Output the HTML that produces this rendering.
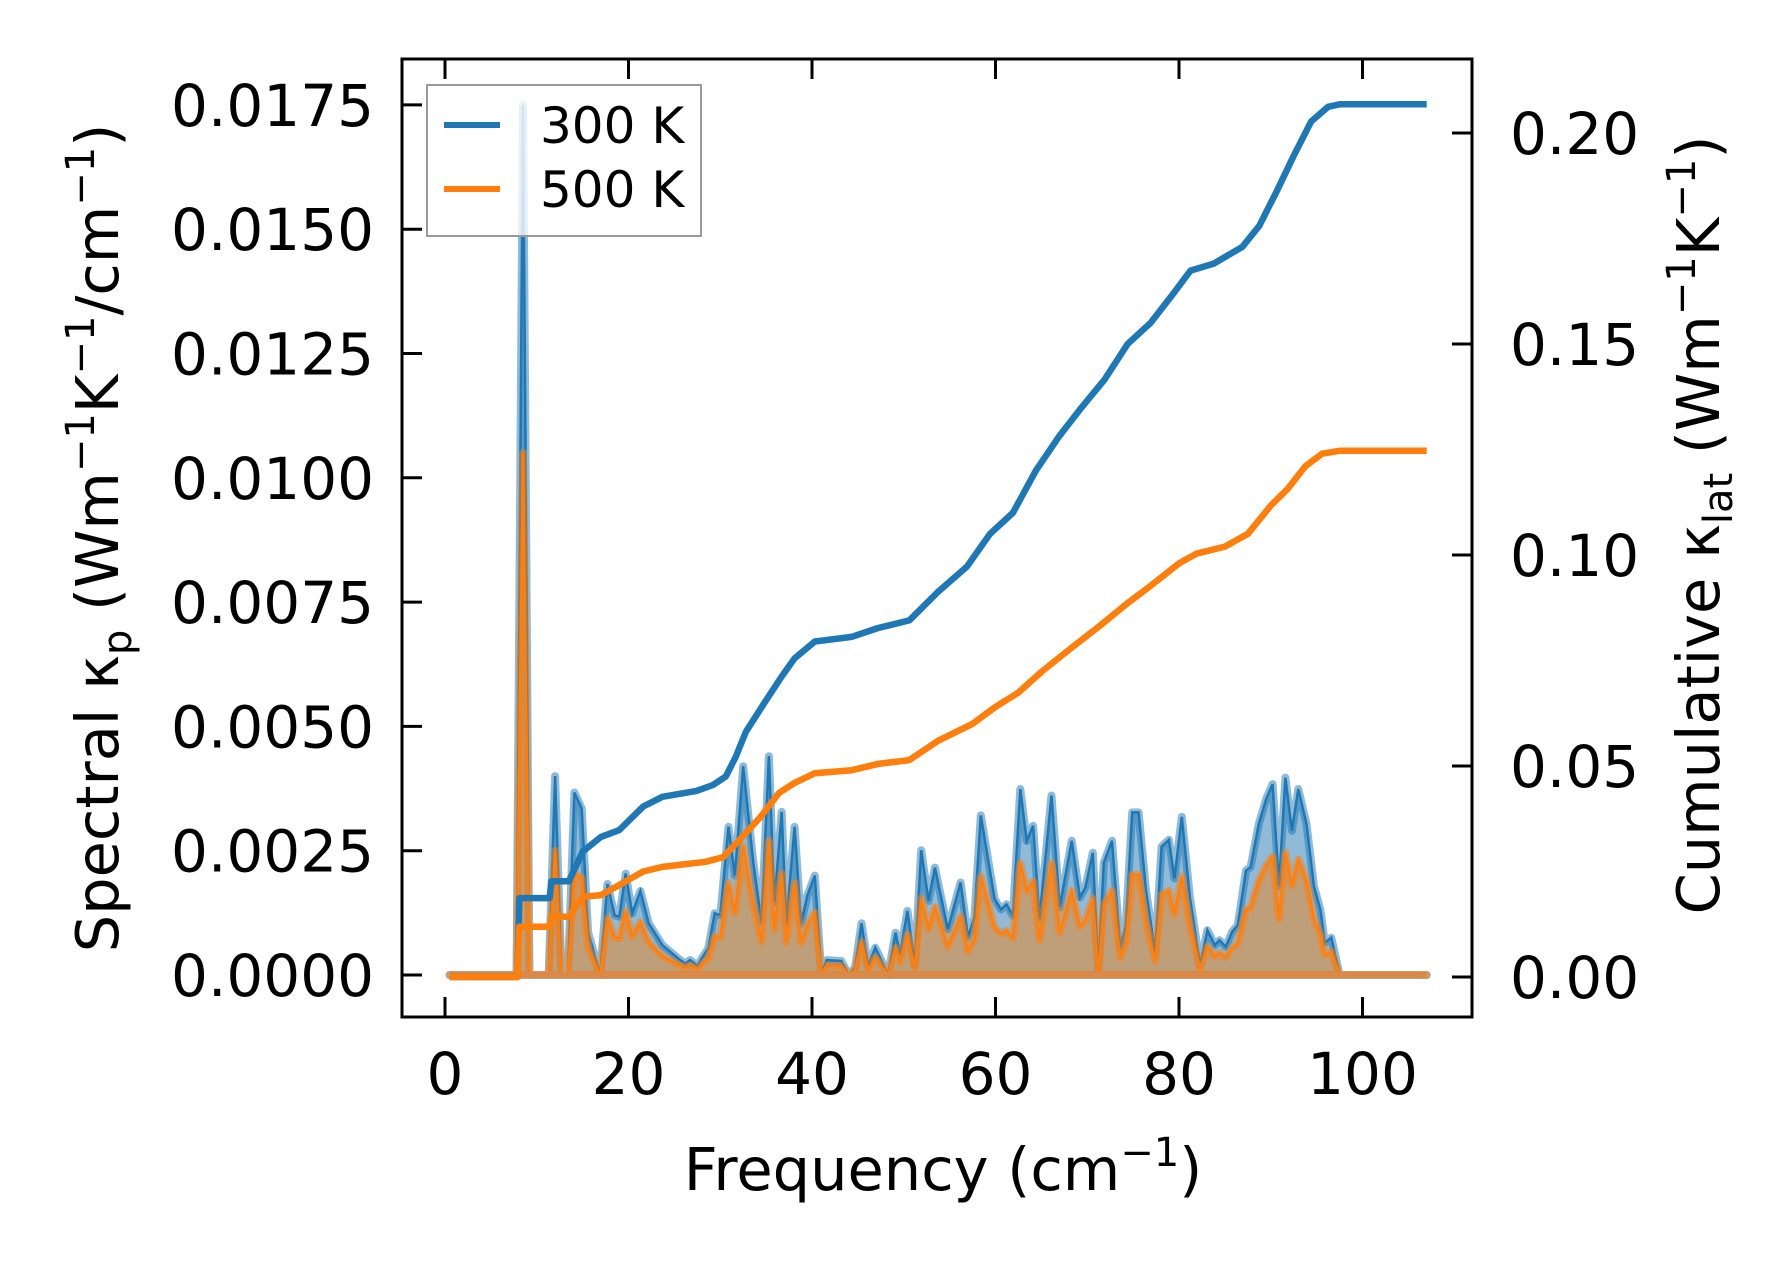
<!DOCTYPE html>
<html><head><meta charset="utf-8"><style>
html,body{margin:0;padding:0;background:#fff;}
svg{display:block;font-family:"DejaVu Sans","Liberation Sans",sans-serif;}
</style></head><body>
<svg id="chart" width="1790" height="1264" viewBox="0 0 1790 1264" xmlns="http://www.w3.org/2000/svg"></svg>
<script>
const specFreq=[0.5,7.8,8.5,9.2,11.3,12.0,12.7,13.4,14.1,14.9,15.6,16.9,17.7,18.5,19.0,19.7,20.4,21.3,22.2,23.7,25.5,26.2,26.7,27.5,28.7,29.4,30.0,30.9,31.6,32.5,33.6,34.5,35.3,35.9,36.7,37.2,38.1,38.8,39.5,40.3,41.0,41.6,43.2,44.0,44.7,45.4,46.1,46.9,47.6,48.3,49.1,49.6,50.4,51.2,51.9,52.7,53.4,54.8,56.2,57.0,57.7,58.4,59.9,60.6,61.2,61.9,62.7,63.4,64.1,64.8,66.1,67.0,68.3,69.2,69.8,70.6,71.2,71.8,72.7,73.6,74.2,74.9,75.6,76.4,77.4,78.1,78.9,79.5,80.3,81.2,82.3,83.1,83.9,84.4,85.1,85.8,86.4,87.3,87.8,88.7,89.5,90.2,90.9,91.6,92.3,93.0,93.9,94.7,95.4,95.9,96.6,97.5,107];
const spec300=[0,0,17.5,0,0,4.0,0,0,3.67,3.35,0.86,0,1.83,1.2,1.17,2.04,1.24,1.69,1.04,0.6,0.32,0.23,0.3,0.19,0.54,1.24,1.2,2.98,2.0,4.2,2.26,1.06,4.4,1.46,3.28,1.03,2.98,1.03,1.6,2.0,0.05,0.3,0.28,0,0.15,1.04,0.18,0.55,0.28,0,0.85,0.42,1.29,0.2,2.51,1.49,2.16,0.92,1.86,0.76,1.16,3.21,1.53,1.32,1.42,1.19,3.74,2.7,3.0,1.13,3.61,1.36,2.7,1.56,1.76,2.46,0.05,2.26,2.7,0.55,1.0,3.27,3.27,1.7,0.45,2.58,2.72,1.94,3.18,1.54,0.2,0.9,0.6,0.7,0.57,0.87,1.0,2.1,2.17,3.04,3.54,3.84,1.79,3.97,2.9,3.74,3.04,1.79,1.32,0.65,0.75,0,0];
const spec500=[0,0,10.5,0,0,2.5,0,0,2.05,1.95,0.55,0,1.14,0.75,0.74,1.28,0.78,1.06,0.66,0.38,0.2,0.15,0.19,0.12,0.34,0.78,0.76,1.85,1.25,2.6,1.41,0.67,2.7,0.92,2.04,0.65,1.85,0.65,1.0,1.25,0.03,0.19,0.18,0,0.1,0.66,0.11,0.35,0.18,0,0.54,0.27,0.81,0.13,1.54,0.94,1.36,0.58,1.17,0.48,0.73,1.98,0.96,0.83,0.89,0.75,2.25,1.7,1.88,0.71,2.25,0.86,1.69,0.98,1.1,1.54,0.03,1.41,1.69,0.35,0.63,2.02,2.02,1.07,0.28,1.62,1.7,1.22,1.98,0.97,0.13,0.57,0.38,0.44,0.36,0.55,0.63,1.32,1.36,1.9,2.2,2.38,1.12,2.46,1.8,2.32,1.9,1.12,0.83,0.41,0.47,0,0];
const cumFreq300=[0.5,7.9,8.1,11.4,11.6,13.5,15.0,17.0,19.0,21.6,23.7,27.4,29.2,30.6,31.7,32.8,35.0,36.7,38.1,40.3,44.3,47.2,50.6,53.75,56.9,59.4,61.9,64.4,66.9,69.4,71.9,74.4,76.9,79.4,81.25,83.75,86.9,88.75,90.6,92.5,94.4,96.25,97.5,107];
const cum300=[0,0,0.0187,0.0187,0.0227,0.0227,0.0297,0.0332,0.0348,0.0404,0.0427,0.0441,0.0455,0.0475,0.0522,0.0581,0.0656,0.0712,0.0755,0.0795,0.0806,0.0827,0.0845,0.0913,0.0973,0.105,0.110,0.120,0.128,0.135,0.1416,0.150,0.155,0.162,0.1674,0.169,0.173,0.178,0.186,0.1946,0.2027,0.2062,0.2068,0.2068];
const cumFreq500=[0.5,7.9,8.1,11.4,11.6,13.5,15.0,17.0,19.0,21.6,23.7,28.4,30.3,32.1,34.3,36.4,38.1,40.3,44.3,47.2,50.6,53.75,57.5,60,62.5,65,68.1,71.25,74.4,76.9,80,81.9,85,87.5,90,91.9,93.75,95.6,97.5,107];
const cum500=[0,0,0.0119,0.0119,0.0143,0.0143,0.019,0.0194,0.0218,0.025,0.0261,0.0273,0.0284,0.0325,0.0377,0.0436,0.046,0.0483,0.049,0.0505,0.0514,0.056,0.060,0.064,0.0674,0.0723,0.0777,0.083,0.0886,0.0927,0.098,0.1003,0.102,0.105,0.1117,0.1158,0.121,0.124,0.1247,0.1247];
const xTicks=[0,20,40,60,80,100];
const yLeftTicks=[0,0.0025,0.005,0.0075,0.01,0.0125,0.015,0.0175];
const yLeftLabels=["0.0000","0.0025","0.0050","0.0075","0.0100","0.0125","0.0150","0.0175"];
const yRightTicks=[0,0.05,0.10,0.15,0.20];
const yRightLabels=["0.00","0.05","0.10","0.15","0.20"];

const L=402,R=1472,T=59,B=1017;
const X=f=>445+f*9.175;
const YL=v=>975-v*49720;
const YS=v=>YL(v*1e-3);
const YR=v=>977-v*4220;
const svg=document.getElementById('chart');
const NS='http://www.w3.org/2000/svg';
function mk(tag,attrs,parent){const e=document.createElementNS(NS,tag);for(const k in attrs)e.setAttribute(k,attrs[k]);(parent||svg).appendChild(e);return e;}
function linePts(fs,vs,yf){return fs.map((f,i)=>X(f).toFixed(1)+','+yf(vs[i]).toFixed(1)).join(' ');}

const BLUE='#1f77b4',ORANGE='#ff7f0e';
const g3=mk('g',{});


let p=mk('polygon',{points:linePts(specFreq,spec300,YS)+' '+X(107)+','+YL(0)+' '+X(0.5)+','+YL(0),fill:BLUE,'fill-opacity':0.5,stroke:BLUE,'stroke-opacity':0.5,'stroke-width':8,'stroke-linejoin':'round'},g3);


p=mk('polyline',{points:linePts(specFreq,spec300,YS),fill:'none',stroke:BLUE,'stroke-width':2.5},g3);


const g5=mk('g',{});


p=mk('polygon',{points:linePts(specFreq,spec500,YS)+' '+X(107)+','+YL(0)+' '+X(0.5)+','+YL(0),fill:'#e08a3a','fill-opacity':0.6,stroke:ORANGE,'stroke-opacity':0.5,'stroke-width':8,'stroke-linejoin':'round'},g5);


p=mk('polyline',{points:linePts(specFreq,spec500,YS),fill:'none',stroke:ORANGE,'stroke-width':2.5},g5);


p=mk('line',{x1:X(0.5),x2:X(107),y1:YL(0),y2:YL(0),stroke:'#d9894a','stroke-width':6});


p=mk('polyline',{points:linePts(cumFreq300,cum300,YR),fill:'none',stroke:BLUE,'stroke-width':6.5,'stroke-linejoin':'round'});


p=mk('polyline',{points:linePts(cumFreq500,cum500,YR),fill:'none',stroke:ORANGE,'stroke-width':6.5,'stroke-linejoin':'round'});


p=mk('rect',{x:L,y:T,width:R-L,height:B-T,fill:'none',stroke:'#000','stroke-width':3});


xTicks.forEach(t=>{
  let e=mk('line',{x1:X(t),x2:X(t),y1:B,y2:B-20,stroke:'#000','stroke-width':3});
  
  
  e=mk('line',{x1:X(t),x2:X(t),y1:T,y2:T+20,stroke:'#000','stroke-width':3});
  
  
  e=mk('text',{x:X(t),y:1094,'text-anchor':'middle','font-size':58});
  e.textContent=String(t);
  
  
});
yLeftTicks.forEach((t,i)=>{
  let e=mk('line',{x1:L,x2:L+20,y1:YL(t),y2:YL(t),stroke:'#000','stroke-width':3});
  
  
  e=mk('text',{x:374,y:YL(t)+21,'text-anchor':'end','font-size':58});
  e.textContent=yLeftLabels[i];
  
  
});
yRightTicks.forEach((t,i)=>{
  let e=mk('line',{x1:R,x2:R-20,y1:YR(t),y2:YR(t),stroke:'#000','stroke-width':3});
  
  
  e=mk('text',{x:1510,y:YR(t)+21,'text-anchor':'start','font-size':58});
  e.textContent=yRightLabels[i];
  
  
});
</script>
<script>
(function(){
const svg=document.getElementById('chart');
svg.insertAdjacentHTML('beforeend',`
<text x="943" y="1190" text-anchor="middle" font-size="59">Frequency (cm<tspan dy="-24" font-size="40">−1</tspan><tspan dy="24">)</tspan></text>
<text transform="translate(118,538) rotate(-90)" text-anchor="middle" font-size="59">Spectral κ<tspan dy="13" font-size="40">p</tspan><tspan dy="-13"> (Wm</tspan><tspan dy="-24" font-size="40">−1</tspan><tspan dy="24">K</tspan><tspan dy="-24" font-size="40">−1</tspan><tspan dy="24">/cm</tspan><tspan dy="-24" font-size="40">−1</tspan><tspan dy="24">)</tspan></text>
<text transform="translate(1719,525) rotate(-90)" text-anchor="middle" font-size="59">Cumulative κ<tspan dy="13" font-size="40">lat</tspan><tspan dy="-13"> (Wm</tspan><tspan dy="-24" font-size="40">−1</tspan><tspan dy="24">K</tspan><tspan dy="-24" font-size="40">−1</tspan><tspan dy="24">)</tspan></text>
<g>
<rect x="427" y="85" width="274" height="151" fill="#fff" fill-opacity="0.8" stroke="#999" stroke-width="2"/>
<line x1="444" x2="500" y1="125" y2="125" stroke="#1f77b4" stroke-width="6"/>
<text x="540" y="143" font-size="50">300 K</text>
<line x1="444" x2="500" y1="189" y2="189" stroke="#ff7f0e" stroke-width="6"/>
<text x="540" y="207" font-size="50">500 K</text>
</g>`);
})();
</script>
</body></html>
